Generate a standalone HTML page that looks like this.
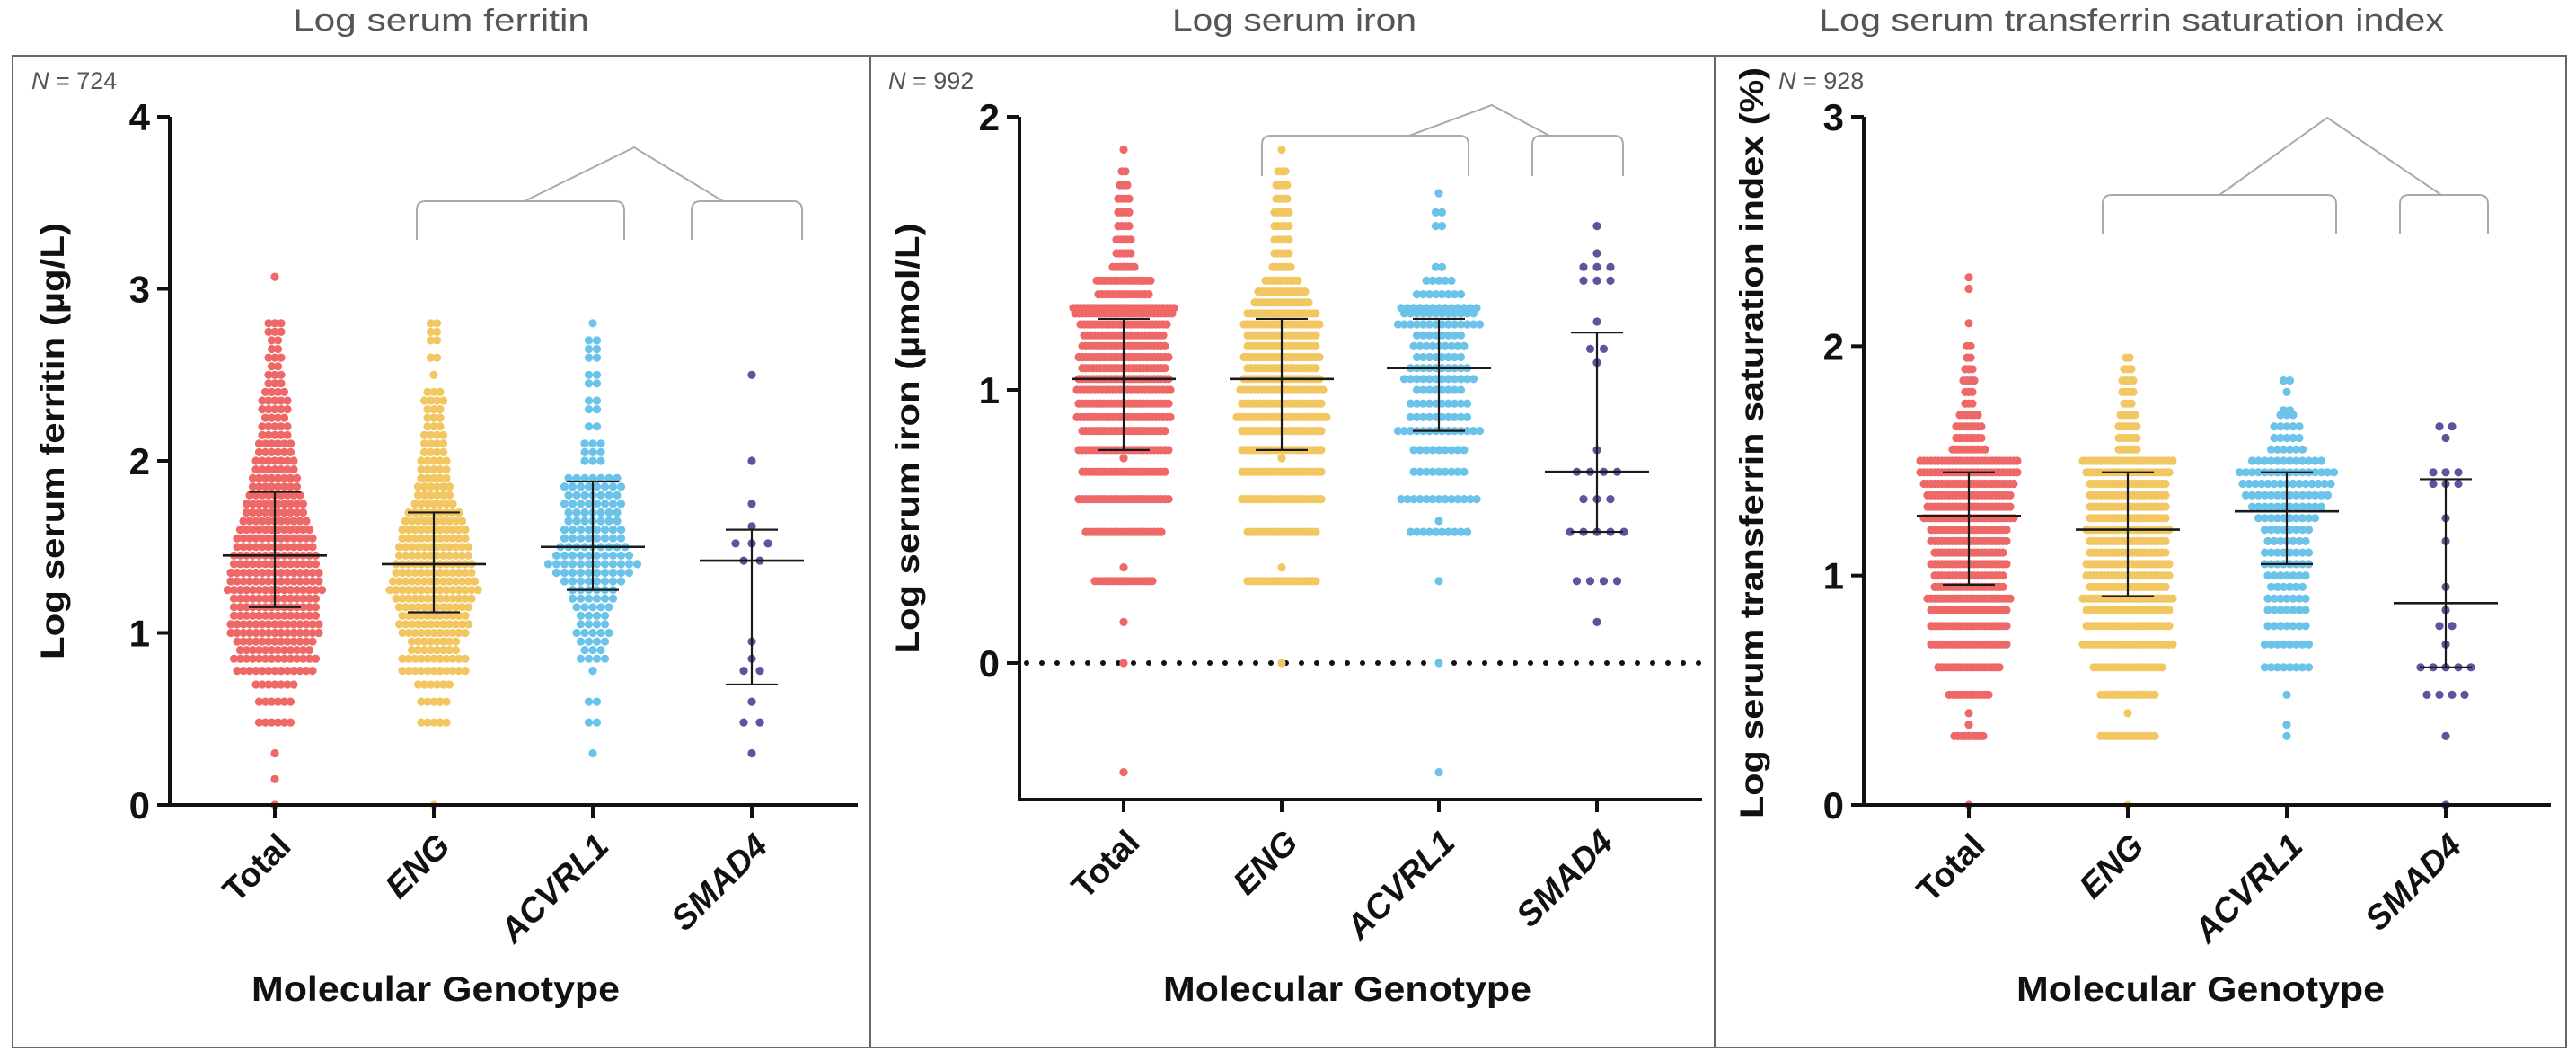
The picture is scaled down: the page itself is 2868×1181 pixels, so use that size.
<!DOCTYPE html>
<html><head><meta charset="utf-8"><style>
html,body{margin:0;padding:0;background:#fff;}
svg{display:block;}
</style></head><body>
<svg id="chart" width="2868" height="1181" viewBox="0 0 2868 1181" xmlns="http://www.w3.org/2000/svg" font-family="'Liberation Sans', sans-serif">
<rect x="14" y="62" width="2843" height="1104" fill="none" stroke="#666" stroke-width="2"/>
<line x1="969" y1="62" x2="969" y2="1166" stroke="#666" stroke-width="2"/>
<line x1="1909" y1="62" x2="1909" y2="1166" stroke="#666" stroke-width="2"/>
</svg>
<script>
const categories = ["Total","ENG","ACVRL1","SMAD4"];
const colors = ["#ee6868","#f2c661","#6cc3ea","#5b559b"];

// Ferritin rows [value, count]
const ferritinTotal = [[0,1],[0.15,1],[0.3,1],[0.48,6],[0.6,6],[0.7,7],[0.78,13],[0.85,14],[0.9,12],[0.95,13],[1.0,15],[1.05,15],[1.1,14],[1.15,14],[1.2,14],[1.25,16],[1.3,15],[1.35,15],[1.4,14],[1.45,14],[1.5,13],[1.55,13],[1.6,12],[1.65,11],[1.7,10],[1.75,10],[1.8,9],[1.85,8],[1.9,8],[1.95,7],[2.0,7],[2.05,6],[2.1,6],[2.15,5],[2.2,5],[2.25,4],[2.3,5],[2.35,5],[2.4,4],[2.45,3],[2.5,3],[2.55,2],[2.6,3],[2.65,2],[2.7,2],[2.75,3],[2.8,3],[3.07,1]];
const ferritinENG = [[0,1],[0.48,5],[0.6,5],[0.7,6],[0.78,11],[0.85,11],[0.9,8],[0.95,8],[1.0,11],[1.05,12],[1.1,11],[1.15,12],[1.2,13],[1.25,15],[1.3,14],[1.35,13],[1.4,13],[1.45,12],[1.5,12],[1.55,11],[1.6,11],[1.65,10],[1.7,9],[1.75,7],[1.8,6],[1.85,6],[1.9,5],[1.95,5],[2.0,5],[2.05,4],[2.1,4],[2.15,4],[2.2,3],[2.25,3],[2.3,3],[2.35,4],[2.4,3],[2.5,1],[2.6,2],[2.7,2],[2.75,2],[2.8,2]];
const ferritinACVRL1 = [[0.3,1],[0.48,2],[0.6,2],[0.78,1],[0.85,4],[0.9,3],[0.95,4],[1.0,5],[1.05,4],[1.1,4],[1.15,5],[1.2,6],[1.25,6],[1.3,8],[1.35,10],[1.4,12],[1.45,10],[1.5,9],[1.55,8],[1.6,8],[1.65,7],[1.7,7],[1.75,8],[1.8,7],[1.85,8],[1.9,7],[2.0,3],[2.05,3],[2.1,3],[2.2,2],[2.3,2],[2.35,2],[2.45,2],[2.5,2],[2.6,2],[2.65,2],[2.7,2],[2.8,1]];
const ferritinSMAD4 = [[0.3,1],[0.48,2],[0.6,1],[0.78,2],[0.85,1],[0.95,1],[1.42,2],[1.52,3],[1.62,1],[1.75,1],[2.0,1],[2.5,1]];
const ferritinMedian = [1.45,1.4,1.5,1.42];
const ferritinQ1 = [1.15,1.12,1.25,0.7];
const ferritinQ3 = [1.82,1.7,1.88,1.6];
const ferritinTicks = [0,1,2,3,4];
const ferritinTickLabels = ["0","1","2","3","4"];

// Iron rows
const ironTotal = [[-0.4,1],[0,1],[0.15,1],[0.3,17],[0.35,1],[0.48,22],[0.6,26],[0.7,24],[0.75,1],[0.78,26],[0.85,24],[0.9,27],[0.95,26],[1.0,27],[1.04,26],[1.08,24],[1.12,26],[1.16,24],[1.2,23],[1.24,25],[1.28,28],[1.3,29],[1.35,15],[1.4,16],[1.45,7],[1.5,5],[1.55,5],[1.6,4],[1.65,4],[1.7,4],[1.75,3],[1.8,2],[1.88,1]];
const ironENG = [[0,1],[0.3,20],[0.35,1],[0.48,20],[0.6,23],[0.7,23],[0.75,1],[0.78,23],[0.85,23],[0.9,26],[0.95,23],[1.0,24],[1.04,22],[1.08,20],[1.12,22],[1.16,20],[1.2,20],[1.24,22],[1.28,20],[1.32,16],[1.36,14],[1.4,10],[1.45,6],[1.5,5],[1.55,5],[1.6,5],[1.65,5],[1.7,4],[1.75,4],[1.8,3],[1.88,1]];
const ironACVRL1 = [[-0.4,1],[0,1],[0.3,1],[0.48,10],[0.52,1],[0.6,13],[0.7,9],[0.78,9],[0.85,14],[0.9,10],[0.95,10],[1.0,8],[1.04,12],[1.08,10],[1.12,8],[1.16,9],[1.2,8],[1.24,14],[1.28,12],[1.3,13],[1.35,8],[1.4,5],[1.45,2],[1.6,2],[1.65,2],[1.72,1]];
const ironSMAD4 = [[0.15,1],[0.3,4],[0.48,5],[0.6,3],[0.7,4],[0.78,1],[1.1,1],[1.15,2],[1.25,1],[1.4,3],[1.45,3],[1.5,1],[1.6,1]];
const ironMedian = [1.04,1.04,1.08,0.7];
const ironQ1 = [0.78,0.78,0.85,0.48];
const ironQ3 = [1.26,1.26,1.26,1.21];
const ironTicks = [0,1,2];
const ironTickLabels = ["0","1","2"];

// Transferrin saturation rows
const tsatTotal = [[0,1],[0.3,9],[0.35,1],[0.4,1],[0.48,12],[0.6,18],[0.7,22],[0.78,22],[0.85,22],[0.9,24],[0.95,20],[1.0,20],[1.05,22],[1.1,20],[1.15,22],[1.2,22],[1.25,26],[1.3,24],[1.35,24],[1.4,26],[1.45,28],[1.5,28],[1.55,10],[1.6,8],[1.65,8],[1.7,6],[1.75,3],[1.8,3],[1.85,4],[1.9,3],[1.95,2],[2.0,2],[2.1,1],[2.25,1],[2.3,1]];
const tsatENG = [[0,1],[0.3,16],[0.4,1],[0.48,16],[0.6,20],[0.7,26],[0.78,24],[0.85,24],[0.9,26],[0.95,22],[1.0,24],[1.05,24],[1.1,22],[1.15,22],[1.2,24],[1.25,22],[1.3,22],[1.35,22],[1.4,22],[1.45,24],[1.5,26],[1.55,6],[1.6,6],[1.65,6],[1.7,5],[1.75,3],[1.8,4],[1.85,4],[1.9,3],[1.95,2]];
const tsatACVRL1 = [[0.3,1],[0.35,1],[0.48,1],[0.6,8],[0.7,8],[0.78,7],[0.85,7],[0.9,7],[0.95,6],[1.0,7],[1.05,8],[1.1,8],[1.15,7],[1.2,8],[1.25,10],[1.3,12],[1.35,14],[1.4,15],[1.45,16],[1.5,12],[1.55,6],[1.6,5],[1.65,5],[1.7,3],[1.72,2],[1.8,1],[1.85,2]];
const tsatSMAD4 = [[0,1],[0.3,1],[0.48,4],[0.6,5],[0.7,1],[0.78,2],[0.85,1],[0.95,1],[1.15,1],[1.25,1],[1.4,3],[1.45,3],[1.6,1],[1.65,2]];
const tsatMedian = [1.26,1.2,1.28,0.88];
const tsatQ1 = [0.96,0.91,1.05,0.6];
const tsatQ3 = [1.45,1.45,1.45,1.42];
const tsatTicks = [0,1,2,3];
const tsatTickLabels = ["0","1","2","3"];

const NS = "http://www.w3.org/2000/svg";
const svg = document.getElementById("chart");
function mk(tag, attrs, parent){ const e=document.createElementNS(NS,tag); for(const k in attrs) e.setAttribute(k,attrs[k]); (parent||svg).appendChild(e); return e; }

const panels = [
 {key:"ferritin", title:"Log serum ferritin", titleX:491, titleLen:330, nText:"724", nX:35, axisX:189, xEnd:955, yMin:0, yMax:4, yTop:130, yBot:896,
  cats:[306,483,660,837], rows:[ferritinTotal,ferritinENG,ferritinACVRL1,ferritinSMAD4], spacing:[7,7,9,18],
  med:ferritinMedian, q1:ferritinQ1, q3:ferritinQ3, ticks:ferritinTicks, tl:ferritinTickLabels,
  yTitle:"Log serum ferritin (µg/L)", yTitleX:58, yTitleY:491, yTitleLen:486,
  br:{l1:464,l2:695,r1:770,r2:893,top:224,bot:267,ax:706,ay:164,s1:584,s2:805}, dotted:false, xLabY:944, gtX:485},
 {key:"iron", title:"Log serum iron", titleX:1441, titleLen:272, nText:"992", nX:989, axisX:1135, xEnd:1895, yMin:-0.5, yMax:2, yTop:130, yBot:890,
  cats:[1251,1427,1602,1778], rows:[ironTotal,ironENG,ironACVRL1,ironSMAD4], spacing:[4,4,7,15],
  med:ironMedian, q1:ironQ1, q3:ironQ3, ticks:ironTicks, tl:ironTickLabels,
  yTitle:"Log serum iron (µmol/L)", yTitleX:1010, yTitleY:488, yTitleLen:479,
  br:{l1:1405,l2:1635,r1:1706,r2:1807,top:151,bot:196,ax:1661,ay:117,s1:1569,s2:1725}, dotted:true, xLabY:940, gtX:1500},
 {key:"tsat", title:"Log serum transferrin saturation index", titleX:2373, titleLen:696, nText:"928", nX:1980, axisX:2075, xEnd:2840, yMin:0, yMax:3, yTop:130, yBot:896,
  cats:[2192,2369,2546,2723], rows:[tsatTotal,tsatENG,tsatACVRL1,tsatSMAD4], spacing:[4,4,7,14],
  med:tsatMedian, q1:tsatQ1, q3:tsatQ3, ticks:tsatTicks, tl:tsatTickLabels,
  yTitle:"Log serum transferrin saturation index (%)", yTitleX:1950, yTitleY:493, yTitleLen:836,
  br:{l1:2341,l2:2601,r1:2672,r2:2770,top:217,bot:260,ax:2591,ay:131,s1:2471,s2:2718}, dotted:false, xLabY:944, gtX:2450}
];

panels.forEach(p=>{
  const g = mk("g",{});
  
  
  const yScale = v => p.yBot - (v - p.yMin)/(p.yMax - p.yMin)*(p.yBot - p.yTop);

  const t = mk("text",{x:p.titleX,y:34,"text-anchor":"middle","font-size":34,fill:"#555",textLength:p.titleLen,lengthAdjust:"spacingAndGlyphs"},g);
  t.textContent = p.title;
  
  

  const n = mk("text",{x:p.nX,y:99,"font-size":27,fill:"#555"},g);
  n.innerHTML = '<tspan font-style="italic">N</tspan> = '+p.nText;
  
  

  const b = p.br;
  const bp = mk("path",{d:`M${b.l1},${b.bot} L${b.l1},${b.top+10} Q${b.l1},${b.top} ${b.l1+10},${b.top} L${b.l2-10},${b.top} Q${b.l2},${b.top} ${b.l2},${b.top+10} L${b.l2},${b.bot} M${b.r1},${b.bot} L${b.r1},${b.top+10} Q${b.r1},${b.top} ${b.r1+10},${b.top} L${b.r2-10},${b.top} Q${b.r2},${b.top} ${b.r2},${b.top+10} L${b.r2},${b.bot} M${b.s1},${b.top} L${b.ax},${b.ay} L${b.s2},${b.top}`,fill:"none",stroke:"#aaa","stroke-width":2},g);
  
  

  if(p.dotted){
    const dl = mk("line",{x1:p.axisX+8,y1:yScale(0),x2:p.xEnd,y2:yScale(0),stroke:"#111","stroke-width":6,"stroke-linecap":"round","stroke-dasharray":"0 17"},g);
    
    
  }

  p.rows.forEach((rows,gi)=>{
    const dg = mk("g",{fill:colors[gi]},g);
    
    
    const sp = p.spacing[gi];
    rows.forEach(r=>{
      const cnt = r[1], y = yScale(r[0]);
      for(let i=0;i<cnt;i++){
        const x = p.cats[gi] + (i - (cnt-1)/2)*sp;
        const c = mk("circle",{cx:x.toFixed(1),cy:y.toFixed(1),r:4.6},dg);
        
        
      }
    });
  });

  p.cats.forEach((cx,gi)=>{
    const sg = mk("g",{stroke:"#1a1a1a","stroke-width":2.2},g);
    
    
    const ym=yScale(p.med[gi]), y1=yScale(p.q1[gi]), y3=yScale(p.q3[gi]);
    mk("line",{x1:cx-58,y1:ym,x2:cx+58,y2:ym,"stroke-width":2.6},sg);
    mk("line",{x1:cx,y1:y1,x2:cx,y2:y3},sg);
    mk("line",{x1:cx-29,y1:y1,x2:cx+29,y2:y1},sg);
    mk("line",{x1:cx-29,y1:y3,x2:cx+29,y2:y3},sg);
  });

  const ax = mk("path",{d:`M${p.axisX},${p.yTop} L${p.axisX},${p.yBot} L${p.xEnd},${p.yBot}`,fill:"none",stroke:"#111","stroke-width":4},g);
  
  
  p.ticks.forEach((tv,i)=>{
    const y=yScale(tv);
    mk("line",{x1:p.axisX-14,y1:y,x2:p.axisX,y2:y,stroke:"#111","stroke-width":4},g);
    const tl = mk("text",{x:p.axisX-22,y:y+15,"text-anchor":"end","font-size":42,"font-weight":"bold",fill:"#111"},g);
    tl.textContent = p.tl[i];
    
    
  });
  p.cats.forEach((cx,gi)=>{
    mk("line",{x1:cx,y1:p.yBot,x2:cx,y2:p.yBot+14,stroke:"#111","stroke-width":4},g);
    const xl = mk("text",{x:cx+20,y:p.xLabY,"text-anchor":"end","font-size":38,"font-weight":"bold",fill:"#111","font-style":gi===0?"normal":"italic",transform:`rotate(-45 ${cx+20} ${p.xLabY})`},g);
    xl.textContent = categories[gi];
    
    
  });

  const yt = mk("text",{x:0,y:0,"text-anchor":"middle","font-size":37,"font-weight":"bold",fill:"#111",textLength:p.yTitleLen,lengthAdjust:"spacingAndGlyphs",transform:`translate(${p.yTitleX+13} ${p.yTitleY}) rotate(-90)`},g);
  yt.textContent = p.yTitle;
  
  

  const xt = mk("text",{x:p.gtX,y:1114,"text-anchor":"middle","font-size":39,"font-weight":"bold",fill:"#111",textLength:410,lengthAdjust:"spacingAndGlyphs"},g);
  xt.textContent = "Molecular Genotype";
  
  
});
</script>
</body></html>
